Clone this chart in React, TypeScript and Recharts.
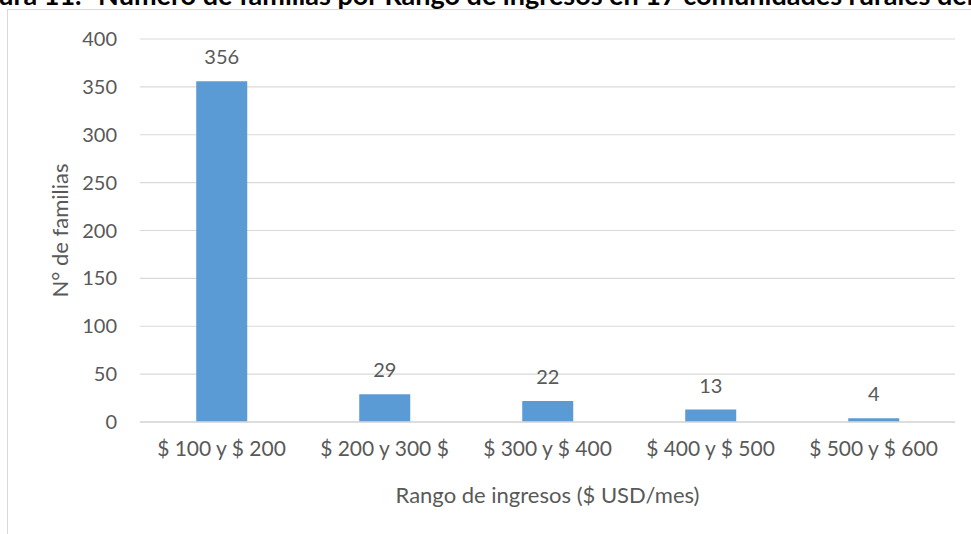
import React from 'react';
import { BarChart, Bar, XAxis, YAxis, CartesianGrid, LabelList } from 'recharts';

const ranges = ['$ 100 y $ 200', '$ 200 y 300 $', '$ 300 y $ 400', '$ 400 y $ 500', '$ 500 y $ 600'];
const families = [356, 29, 22, 13, 4];
const yTicks = [0, 50, 100, 150, 200, 250, 300, 350, 400];

const data = ranges.map((rango, i) => ({ rango, familias: families[i] }));

const font = 'Lato, "Open Sans", sans-serif';
const grey = '#595959';

export default function App() {
  return (
    <div
      style={{
        position: 'absolute',
        left: 0,
        top: 0,
        width: 971,
        height: 534,
        overflow: 'hidden',
        background: '#fff',
        fontFamily: font,
      }}
    >
      {/* caption of the figure, cut off by the page above the chart frame */}
      <svg width={971} height={30} style={{ position: 'absolute', left: 0, top: 0 }}>
        <text x={-38} y={5} fontFamily={font} fontWeight="bold" fontSize={27} fill="#000">
          Figura 11.- Número de familias por Rango de ingresos en 17 comunidades rurales del cantón
        </text>
      </svg>
      <div
        style={{
          position: 'absolute',
          left: 7,
          top: 9,
          width: 990,
          height: 560,
          border: '1.5px solid #d9d9d9',
        }}
      />
      <div style={{ position: 'absolute', left: 0, top: 0 }}>
        <BarChart
          width={971}
          height={534}
          data={data}
          margin={{ top: 39, right: 16, bottom: 0, left: 80 }}
          barCategoryGap="34.5%"
        >
          <CartesianGrid vertical={false} stroke="#d9d9d9" strokeWidth={1.2} />
          <XAxis
            dataKey="rango"
            height={112}
            axisLine={{ stroke: '#d9d9d9', strokeWidth: 1.5 }}
            tickLine={false}
            tick={{ fill: grey, fontSize: 21, fontFamily: font }}
            tickMargin={13}
            interval={0}
            label={{
              value: 'Rango de ingresos ($ USD/mes)',
              position: 'insideBottom',
              offset: 31,
              fill: grey,
              fontSize: 22,
              fontFamily: font,
            }}
          />
          <YAxis
            width={60}
            domain={[0, 400]}
            ticks={yTicks}
            axisLine={false}
            tickLine={false}
            tickSize={0}
            tickMargin={23}
            tick={{ fill: grey, fontSize: 20, fontFamily: font }}
            label={{
              value: 'N° de familias',
              angle: -90,
              position: 'insideLeft',
              offset: -20,
              fill: grey,
              fontSize: 22,
              fontFamily: font,
              style: { textAnchor: 'middle' },
            }}
          />
          <Bar dataKey="familias" fill="#5b9bd5" isAnimationActive={false}>
            <LabelList
              dataKey="familias"
              position="top"
              offset={17}
              fill={grey}
              fontSize={20}
              fontFamily={font}
            />
          </Bar>
        </BarChart>
      </div>
    </div>
  );
}
